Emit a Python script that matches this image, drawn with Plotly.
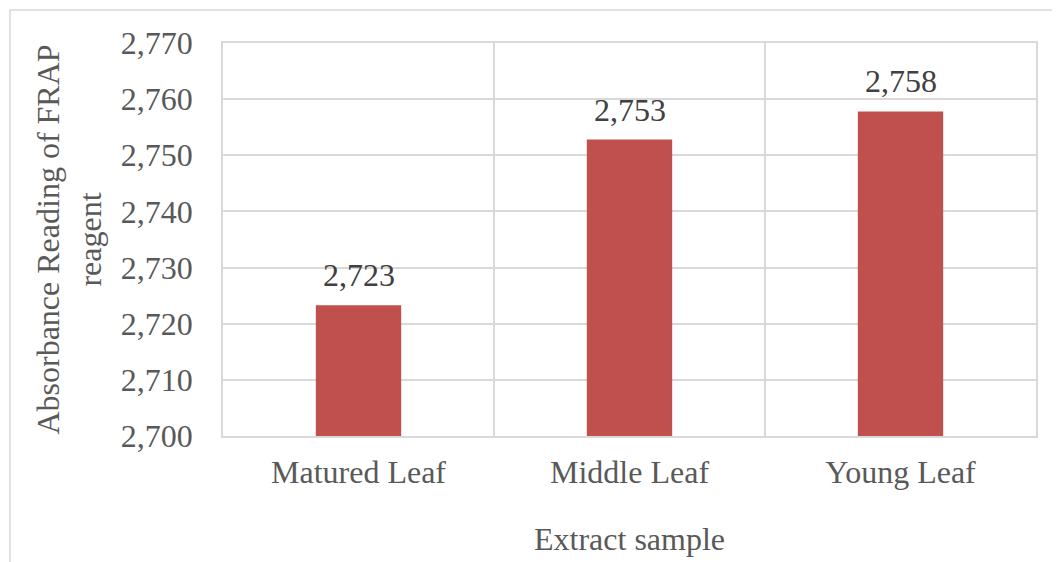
import plotly.graph_objects as go

categories = ["Matured Leaf", "Middle Leaf", "Young Leaf"]
values = [2.7233, 2.7528, 2.7578]
y_title = "Absorbance Reading of FRAP<br>reagent"
x_title = "Extract sample"

# page offset of 8px (body margin) is compensated by shrinking the figure
W, H = 1052, 554
ml, mr, mt, mb = 215, 24, 35, 126
FONT = "Liberation Serif"

fig = go.Figure(go.Bar(
    x=categories, y=values, width=0.315,
    marker=dict(color="#C0504D", line=dict(width=0)),
    hoverinfo="x+y",
))

for c, v in zip(categories, values):
    fig.add_annotation(
        x=c, y=v, xref="x", yref="y", text=f"{v:.3f}".replace(".", ","),
        showarrow=False, yanchor="bottom", yshift=10,
        font=dict(family=FONT, size=32, color="#404040"),
    )

pw = W - ml - mr
ph = H - mt - mb
fig.add_shape(type="rect", xref="paper", yref="paper",
              x0=(2 - ml) / pw, x1=(W + 20 - ml) / pw,
              y0=-(H + 20 - mt - ph) / ph, y1=1 + (mt - 2) / ph,
              line=dict(color="#d9d9d9", width=1.5), layer="below")

fig.update_layout(
    width=W, height=H, margin=dict(l=ml, r=mr, t=mt, b=mb),
    paper_bgcolor="white", plot_bgcolor="white",
    separators=",.", showlegend=False,
    font=dict(family=FONT, size=32, color="#595959"),
    xaxis=dict(
        tickson="boundaries", showgrid=True, gridcolor="#d9d9d9", gridwidth=1.5,
        showline=True, linecolor="#d9d9d9", linewidth=1.5, mirror=True,
        ticks="", ticklabelstandoff=7,
        title=dict(text=x_title, standoff=38, font=dict(size=32, color="#595959")),
        tickfont=dict(size=32, color="#595959"),
    ),
    yaxis=dict(
        range=[2.7, 2.77], dtick=0.01, tickformat=".3f",
        showgrid=True, gridcolor="#d9d9d9", gridwidth=1.5,
        showline=True, linecolor="#d9d9d9", linewidth=1.5, mirror=True,
        zeroline=False, ticks="", ticklabelstandoff=22,
        title=dict(text=y_title, standoff=10, font=dict(size=32, color="#595959")),
        tickfont=dict(size=32, color="#595959"),
    ),
)

fig.write_html("out.html")
